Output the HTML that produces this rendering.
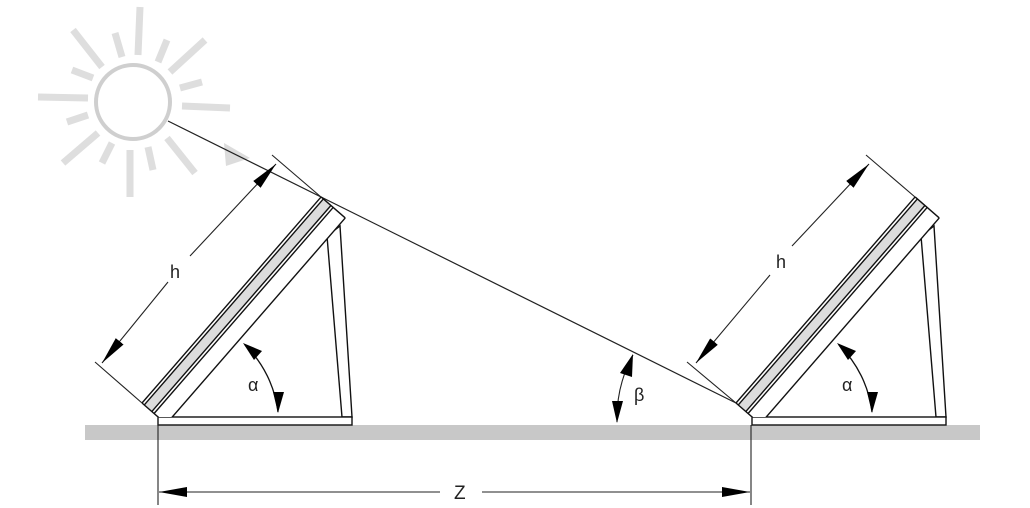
<!DOCTYPE html>
<html><head><meta charset="utf-8"><style>
html,body{margin:0;padding:0;background:#fff;}
svg{display:block}
text{font-family:"Liberation Sans",sans-serif;fill:#222}
</style></head><body>
<svg width="1030" height="508" viewBox="0 0 1030 508" xmlns="http://www.w3.org/2000/svg">
<defs>
<marker id="ar" markerUnits="userSpaceOnUse" markerWidth="30" markerHeight="14" refX="28" refY="6" orient="auto">
<path d="M0,1 L28,6 L0,11 Z" fill="#000"/>
</marker>
<clipPath id="cl"><rect x="0" y="0" width="1030" height="417"/></clipPath>
<g id="panel">
 <g stroke="#111" stroke-width="1.4" fill="#fff">
  <polygon points="327,236 340,226 352,417 342,417"/>
  <rect x="158" y="417" width="194" height="8"/>
 </g>
 <g clip-path="url(#cl)">
  <g transform="translate(142,403) rotate(-49)">
   <rect x="0" y="0" width="273" height="32" fill="#fff"/>
   <rect x="0" y="3" width="273" height="10" fill="#dcdcdc"/>
   <g stroke="#111" stroke-width="1.4" fill="none">
    <line x1="0" y1="0" x2="273" y2="0"/>
    <line x1="0" y1="3" x2="273" y2="3"/>
    <line x1="0" y1="13" x2="273" y2="13"/>
    <line x1="0" y1="16" x2="273" y2="16"/>
    <line x1="0" y1="32" x2="273" y2="32"/>
    <line x1="273" y1="0" x2="273" y2="32"/>
    <line x1="0" y1="0" x2="0" y2="40"/>
   </g>
  </g>
 </g>
 <path d="M245,345 A113,113 0 0 1 278,412" fill="none" stroke="#111" stroke-width="1.3"/>
 <path d="M243,343 L262,351 L254,360 Z" fill="#000"/>
 <path d="M278,413 L273,392 L284,392 Z" fill="#000"/>
 <text x="248" y="391" font-size="18">α</text>
</g>
</defs>

<rect x="85" y="425" width="895" height="15" fill="#c8c8c8"/>

<g stroke="#dedede" stroke-width="7" stroke-linecap="butt">
<line x1="140" y1="7" x2="138" y2="55"/>
<line x1="73" y1="30" x2="102" y2="67"/>
<line x1="115" y1="33" x2="122" y2="57"/>
<line x1="167" y1="40" x2="158" y2="62"/>
<line x1="205" y1="40" x2="170" y2="72"/>
<line x1="72" y1="70" x2="93" y2="78"/>
<line x1="202" y1="82" x2="180" y2="88"/>
<line x1="38" y1="97" x2="88" y2="98"/>
<line x1="230" y1="108" x2="182" y2="106"/>
<line x1="67" y1="122" x2="88" y2="115"/>
<line x1="63" y1="163" x2="98" y2="133"/>
<line x1="102" y1="163" x2="112" y2="143"/>
<line x1="130" y1="197" x2="130" y2="150"/>
<line x1="153" y1="170" x2="148" y2="147"/>
<line x1="195" y1="173" x2="167" y2="138"/>
</g>
<circle cx="133" cy="102" r="37" fill="#fff" stroke="#cfcfcf" stroke-width="4"/>
<path d="M224,143 L250,158 L226,166 Z" fill="#dcdcdc"/>

<line x1="168" y1="121" x2="736" y2="403" stroke="#222" stroke-width="1.2"/>

<use href="#panel"/>
<use href="#panel" transform="translate(594,0)"/>

<g stroke="#222" stroke-width="1.1" fill="none">
<line x1="321" y1="197" x2="272" y2="155"/>
<line x1="142" y1="403" x2="95" y2="362"/>
<line x1="190" y1="256" x2="276" y2="164" marker-end="url(#ar)"/>
<line x1="168" y1="282" x2="102" y2="363" marker-end="url(#ar)"/>
<line x1="915" y1="197" x2="866" y2="155"/>
<line x1="736" y1="403" x2="687" y2="362"/>
<line x1="792" y1="246" x2="869" y2="164" marker-end="url(#ar)"/>
<line x1="770" y1="275" x2="696" y2="363" marker-end="url(#ar)"/>
</g>
<text x="170" y="278" font-size="18">h</text>
<text x="776" y="268" font-size="18">h</text>

<path d="M633,355 A133,133 0 0 0 617,422" fill="none" stroke="#222" stroke-width="1.1"/>
<path d="M633,354 L632,377 L620,373 Z" fill="#000"/>
<path d="M617,423 L612,401 L623,401 Z" fill="#000"/>
<text x="634" y="401" font-size="18">β</text>

<g stroke="#222" stroke-width="1.1">
<line x1="158" y1="417" x2="158" y2="505"/>
<line x1="751" y1="425" x2="751" y2="505"/>
<line x1="440" y1="492" x2="159" y2="492" marker-end="url(#ar)"/>
<line x1="482" y1="492" x2="750" y2="492" marker-end="url(#ar)"/>
</g>
<text x="454" y="499" font-size="19">Z</text>
</svg>
</body></html>
